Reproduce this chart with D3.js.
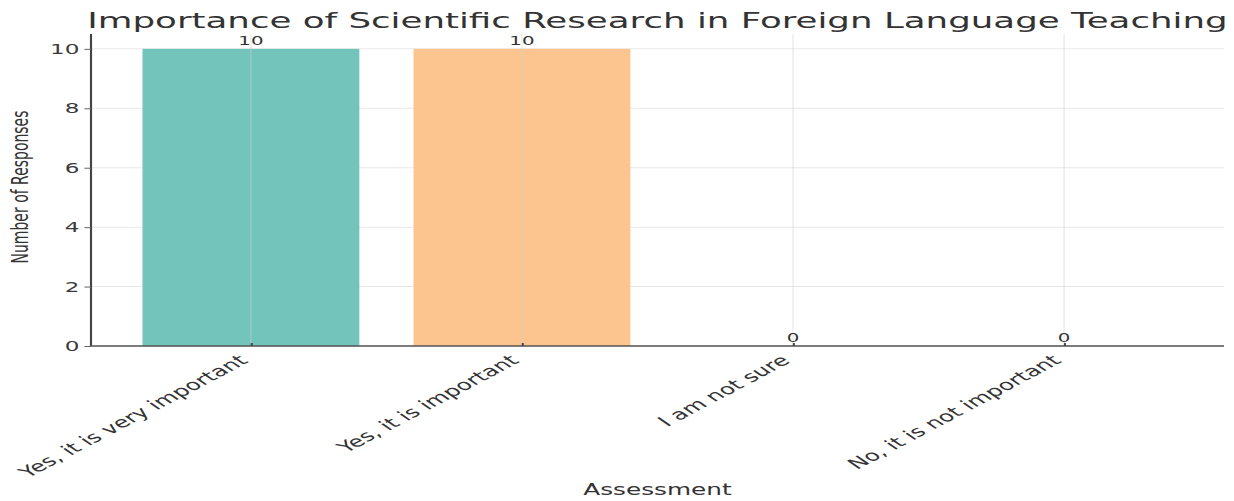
<!DOCTYPE html>
<html>
<head>
<meta charset="utf-8">
<script src="https://cdn.jsdelivr.net/npm/d3@7"></script>
<style>
  html, body { margin: 0; padding: 0; background: #ffffff; }
  svg { display: block; }
  text { font-family: "DejaVu Sans", sans-serif; fill: #333333; }
</style>
</head>
<body>
<svg id="chart"></svg>
<script>
// Survey answers and their counts
const categories = [
  "Yes, it is very important",
  "Yes, it is important",
  "I am not sure",
  "No, it is not important"
];
const responses = [10, 10, 0, 0];
const barColors = ["#73c4bb", "#fcc48f", "#9cc7e8", "#f2a2a2"];
const yTicks = [0, 2, 4, 6, 8, 10];

const chartTitle = "Importance of Scientific Research in Foreign Language Teaching";
const xTitle = "Assessment";
const yTitle = "Number of Responses";

// The figure is drawn in a narrower coordinate space and widened to the window.
const W = 1234, H = 501;
const stretch = 1.65;
const VW = W / stretch;

const svg = d3.select("#chart")
  .attr("width", W)
  .attr("height", H)
  .attr("viewBox", `0 0 ${VW} ${H}`)
  .attr("preserveAspectRatio", "none");

const plotLeft = 91 / stretch, plotRight = 1224 / stretch;
const plotTop = 34, plotBottom = 346;

const x = d3.scaleLinear().domain([-0.59, 3.59]).range([plotLeft, plotRight]);
const y = d3.scaleLinear().domain([0, 10.5]).range([plotBottom, plotTop]);
const barW = 0.8;

// horizontal grid
svg.append("g")
  .selectAll("line")
  .data(yTicks)
  .join("line")
  .attr("x1", plotLeft).attr("x2", plotRight)
  .attr("y1", d => y(d)).attr("y2", d => y(d))
  .attr("stroke", "#e8e8e8")
  .attr("stroke-width", 1);

// bars
svg.append("g")
  .selectAll("rect")
  .data(responses)
  .join("rect")
  .attr("x", (d, i) => x(i - barW / 2))
  .attr("width", (d, i) => x(i + barW / 2) - x(i - barW / 2))
  .attr("y", d => y(d))
  .attr("height", d => y(0) - y(d))
  .attr("fill", (d, i) => barColors[i]);

// vertical grid
svg.append("g")
  .selectAll("line")
  .data(categories)
  .join("line")
  .attr("x1", (d, i) => x(i)).attr("x2", (d, i) => x(i))
  .attr("y1", plotTop).attr("y2", plotBottom)
  .attr("stroke", "#cfcfcf")
  .attr("stroke-opacity", 0.35)
  .attr("stroke-width", 1);

// y axis
const yAxis = d3.axisLeft(y).tickValues(yTicks).tickSize(4).tickPadding(3);
const gy = svg.append("g").attr("transform", `translate(${plotLeft},0)`).call(yAxis);
gy.select(".domain").attr("stroke", "#444").attr("stroke-width", 1.3).attr("d", `M0,${plotTop}V${plotBottom}`);
gy.selectAll(".tick line").attr("stroke", "#666");
gy.selectAll(".tick text").attr("font-size", 14).style("fill", "#3a3a3a").attr("font-family", "DejaVu Sans");

// x axis
const xAxis = d3.axisBottom(x).tickValues(d3.range(categories.length)).tickSize(0).tickFormat("");
const gx = svg.append("g").attr("transform", `translate(0,${plotBottom})`).call(xAxis);
gx.select(".domain").attr("stroke", "#555").attr("stroke-width", 1.3).attr("d", `M${plotLeft},0H${plotRight}`);
gx.selectAll(".tick").append("line")
  .attr("y1", 0).attr("y2", -3)
  .attr("stroke", "#444").attr("stroke-width", 1.2);

// category labels, rotated and right-aligned at the tick
svg.append("g")
  .selectAll("text")
  .data(categories)
  .join("text")
  .attr("transform", (d, i) => `translate(${x(i) - 8},${plotBottom + 8}) rotate(-41)`)
  .attr("text-anchor", "end")
  .attr("dy", "0.7em")
  .attr("font-size", 15)
  .text(d => d);

// value labels
svg.append("g")
  .selectAll("text")
  .data(responses)
  .join("text")
  .attr("x", (d, i) => x(i))
  .attr("y", d => y(d) - 4)
  .attr("text-anchor", "middle")
  .attr("font-size", 12)
  .text(d => d);

// titles
svg.append("text")
  .attr("x", (plotLeft + plotRight) / 2)
  .attr("y", 28)
  .attr("text-anchor", "middle")
  .attr("font-size", 21.6)
  .text(chartTitle);

svg.append("text")
  .attr("x", (plotLeft + plotRight) / 2)
  .attr("y", 495)
  .attr("text-anchor", "middle")
  .attr("font-size", 15)
  .text(xTitle);

svg.append("text")
  .attr("transform", `translate(${28 / stretch},${(plotTop + plotBottom) / 2 - 3}) rotate(-90)`)
  .attr("text-anchor", "middle")
  .attr("font-size", 14)
  .text(yTitle);
</script>
</body>
</html>
